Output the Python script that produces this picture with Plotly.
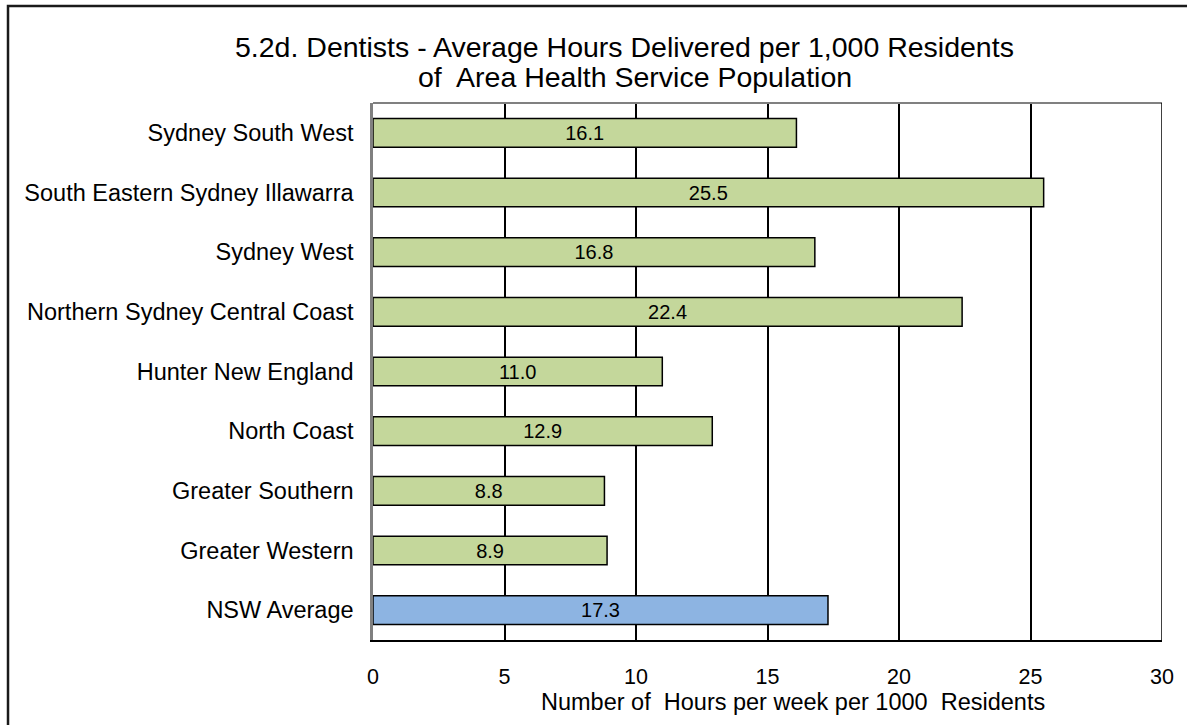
import plotly.graph_objects as go

categories = ["Sydney South West", "South Eastern Sydney Illawarra", "Sydney West",
              "Northern Sydney Central Coast", "Hunter New England", "North Coast",
              "Greater Southern", "Greater Western", "NSW Average"]
values = [16.1, 25.5, 16.8, 22.4, 11.0, 12.9, 8.8, 8.9, 17.3]
bar_colors = ["#C4D79B"] * 8 + ["#8DB4E2"]
x_ticks = [0, 5, 10, 15, 20, 25, 30]

FONT = "Liberation Sans, Arial, sans-serif"

fig = go.Figure()
fig.add_trace(go.Bar(
    y=categories, x=values, orientation="h",
    marker=dict(color=bar_colors, line=dict(color="#000000", width=1.5)),
    text=[f"{v:.1f}" for v in values], textposition="inside",
    insidetextanchor="middle", textangle=0,
    textfont=dict(family=FONT, size=20, color="#000000"),
    hoverinfo="skip",
))

fig.update_layout(
    width=1187, height=725,
    margin=dict(l=373, r=25, t=103, b=85),
    paper_bgcolor="white", plot_bgcolor="white",
    showlegend=False, bargap=0.52,
    font=dict(family=FONT, color="#000000"),
    xaxis=dict(range=[0, 30], tickvals=x_ticks, showgrid=True, gridcolor="#000000",
               gridwidth=1.5, zeroline=False, showline=True, linecolor="#000000",
               linewidth=1.5, ticks="", tickfont=dict(family=FONT, size=21.5, color="#000000"),
               ticklabelstandoff=16, fixedrange=True),
    yaxis=dict(autorange="reversed", showgrid=False, zeroline=False, showline=True,
               linecolor="#808080", linewidth=2.5, ticks="",
               tickfont=dict(family=FONT, size=23.5, color="#000000"),
               ticklabelstandoff=12, fixedrange=True),
    shapes=[
        dict(type="line", xref="paper", yref="paper", x0=0, x1=1, y0=1, y1=1,
             line=dict(color="#808080", width=2)),
        dict(type="line", xref="x", yref="paper", x0=30, x1=30, y0=0, y1=1,
             line=dict(color="#000000", width=1.5)),
        dict(type="rect", xref="paper", yref="paper", x0=-0.4626, x1=1.2, y0=-0.3, y1=1.1806,
             line=dict(color="#1a1a1a", width=2.5), fillcolor="rgba(0,0,0,0)", layer="above"),
    ],
    annotations=[
        dict(text="5.2d. Dentists - Average Hours Delivered per 1,000 Residents",
             xref="paper", yref="paper", x=0.319, y=1.1043, xanchor="center", yanchor="middle",
             showarrow=False, font=dict(family=FONT, size=28.5, color="#000000")),
        dict(text="of  Area Health Service Population",
             xref="paper", yref="paper", x=0.332, y=1.0484, xanchor="center", yanchor="middle",
             showarrow=False, font=dict(family=FONT, size=28.5, color="#000000")),
        dict(text="Number of  Hours per week per 1000  Residents",
             xref="paper", yref="paper", x=0.532, y=-0.1155, xanchor="center", yanchor="middle",
             showarrow=False, font=dict(family=FONT, size=23.5, color="#000000")),
    ],
)

fig.write_html("out.html", config={"displayModeBar": False},
               post_script="document.body.style.margin='0';document.body.style.overflow='hidden';")
